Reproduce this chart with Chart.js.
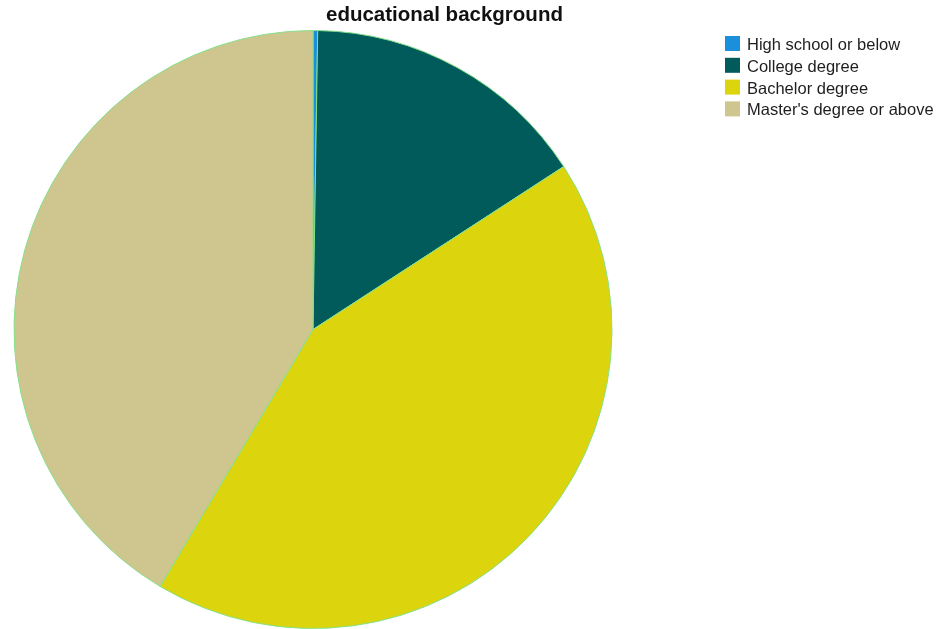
<!DOCTYPE html>
<html>
<head>
<meta charset="utf-8">
<script src="https://cdn.jsdelivr.net/npm/chart.js@4.4.1/dist/chart.umd.min.js"></script>
<style>
    html, body { margin: 0; padding: 0; background: #fff; }
    #wrap { position: relative; width: 939px; height: 629px; }
</style>
</head>
<body>
<div id="wrap"><canvas id="eduChart" width="939" height="629"></canvas></div>
<script>
var chartTitle = 'educational background';
var categories = ['High school or below', 'College degree', 'Bachelor degree', "Master's degree or above"];
var counts = [1, 62, 170, 165];
var sliceColors = ['#1a8fdc', '#005b5a', '#dcd40c', '#cfc68f'];

// title + legend drawn by hand, the pie itself comes from the arc elements
var sideBits = {
    id: 'sideBits',
    afterDraw: function (chart) {
        var ctx = chart.ctx;
        ctx.save();
        ctx.fillStyle = '#111';
        ctx.font = 'bold 20.5px "Liberation Sans", Arial, sans-serif';
        ctx.textAlign = 'left';
        ctx.textBaseline = 'alphabetic';
        ctx.fillText(chartTitle, 326, 21);

        ctx.font = '16.5px "Liberation Sans", Arial, sans-serif';
        var labels = chart.data.labels;
        var colors = chart.data.datasets[0].backgroundColor;
        for (var i = 0; i < labels.length; i++) {
            var y = 43.5 + i * 21.8;
            ctx.fillStyle = colors[i];
            ctx.fillRect(725, y - 7.5, 15, 15);
            ctx.fillStyle = '#1e1e1e';
            ctx.fillText(labels[i], 747, y + 6.5);
        }
        ctx.restore();
    }
};

new Chart(document.getElementById('eduChart'), {
    type: 'pie',
    data: {
        labels: categories,
        datasets: [{
            data: counts,
            backgroundColor: sliceColors,
            borderColor: '#86e08a',
            borderWidth: 1
        }]
    },
    options: {
        responsive: false,
        animation: false,
        layout: { padding: { left: 13, right: 326, top: 30, bottom: 0 } },
        plugins: {
            legend: { display: false },
            title: { display: false },
            tooltip: { enabled: false }
        }
    },
    plugins: [sideBits]
});
</script>
</body>
</html>
